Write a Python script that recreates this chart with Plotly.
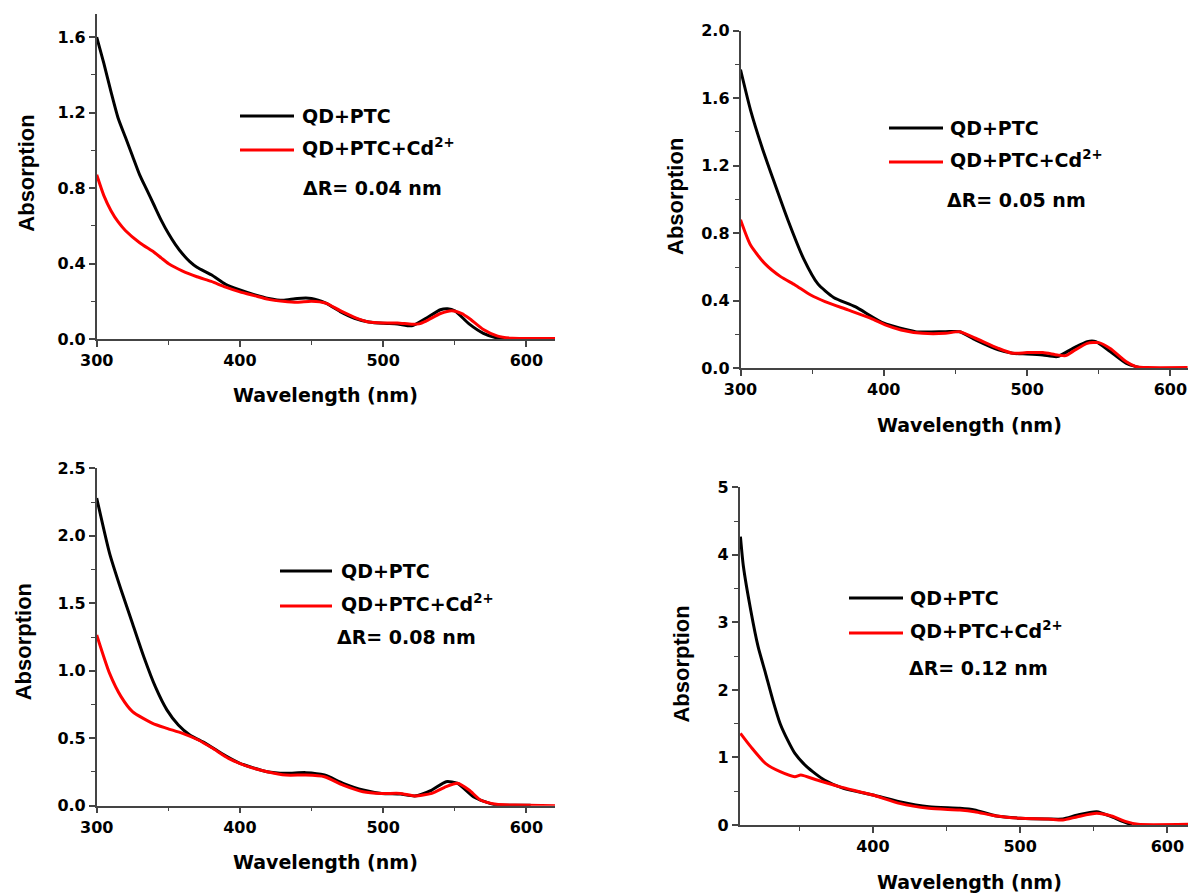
import plotly.graph_objects as go

W, H = 1188, 894

# ---------------- data ----------------
# Panel 1  (ΔR = 0.04 nm)
p1_black_x = [300, 305, 310, 315, 320, 325, 330, 335, 340, 345, 350, 355, 360, 365, 370, 380, 390, 400, 410, 420,
              430, 440, 450, 460, 470, 480, 490, 500, 510, 520, 530, 540, 545, 550, 560, 570, 580, 590]
p1_black_y = [1.60, 1.46, 1.31, 1.17, 1.07, 0.97, 0.87, 0.79, 0.71, 0.63, 0.56, 0.50, 0.45, 0.41, 0.38, 0.34, 0.29, 0.26, 0.235, 0.215,
              0.205, 0.215, 0.215, 0.19, 0.145, 0.11, 0.09, 0.083, 0.08, 0.07, 0.11, 0.155, 0.16, 0.15, 0.08, 0.03, 0.005, 0.0]
p1_red_x = [300, 305, 310, 315, 320, 330, 340, 345, 350, 360, 370, 380, 390, 400, 410, 420, 430, 440, 450, 460,
            470, 480, 490, 500, 510, 520, 525, 530, 540, 548, 555, 560, 570, 580, 590, 600, 620]
p1_red_y = [0.87, 0.76, 0.68, 0.62, 0.575, 0.51, 0.46, 0.43, 0.40, 0.36, 0.33, 0.305, 0.275, 0.25, 0.23, 0.21, 0.20, 0.195, 0.20, 0.19,
            0.15, 0.115, 0.09, 0.085, 0.085, 0.078, 0.08, 0.095, 0.135, 0.15, 0.135, 0.11, 0.05, 0.015, 0.004, 0.003, 0.003]

# Panel 2  (ΔR = 0.05 nm)
p2_black_x = [300, 307, 315, 323, 333, 344, 354, 365, 380, 400, 422, 443, 453, 464, 480, 490, 500, 511, 521, 532,
              542, 548, 558, 569, 576, 582]
p2_black_y = [1.77, 1.53, 1.31, 1.115, 0.88, 0.65, 0.50, 0.42, 0.365, 0.267, 0.217, 0.217, 0.217, 0.168, 0.109, 0.089, 0.085, 0.079, 0.069, 0.118,
              0.158, 0.158, 0.099, 0.03, 0.01, 0.0]
p2_red_x = [300, 307, 317, 328, 338, 349, 359, 375, 391, 401, 412, 427, 443, 453, 464, 480, 490, 500, 511, 521,
            527, 532, 542, 550, 558, 569, 576, 584, 612]
p2_red_y = [0.88, 0.73, 0.62, 0.543, 0.494, 0.434, 0.395, 0.346, 0.296, 0.257, 0.227, 0.207, 0.207, 0.217, 0.178, 0.118, 0.089, 0.093, 0.093, 0.079,
            0.075, 0.10, 0.148, 0.152, 0.118, 0.04, 0.01, 0.004, 0.004]

# Panel 3  (ΔR = 0.08 nm)
p3_black_x = [300, 309, 317, 325, 333, 341, 349, 357, 365, 376, 387, 400, 419, 432, 446, 459, 472, 486, 499, 512,
              522, 534, 544, 552, 563, 571, 579, 590, 603]
p3_black_y = [2.28, 1.87, 1.60, 1.35, 1.10, 0.88, 0.71, 0.598, 0.524, 0.462, 0.388, 0.314, 0.252, 0.24, 0.245, 0.227, 0.166, 0.116, 0.091, 0.086,
              0.072, 0.116, 0.178, 0.166, 0.067, 0.03, 0.005, 0.004, 0.004]
p3_red_x = [300, 309, 317, 325, 339, 349, 360, 371, 381, 392, 406, 419, 432, 446, 459, 472, 486, 499, 512, 522,
            534, 544, 552, 560, 568, 579, 592, 620]
p3_red_y = [1.265, 0.98, 0.808, 0.697, 0.61, 0.573, 0.536, 0.487, 0.425, 0.351, 0.289, 0.252, 0.227, 0.227, 0.215, 0.153, 0.104, 0.091, 0.091, 0.072,
            0.091, 0.141, 0.166, 0.116, 0.042, 0.01, 0.005, 0.0]

# Panel 4  (ΔR = 0.12 nm)
p4_black_x = [310, 312, 317, 322, 327, 332, 337, 342, 347, 355, 367, 380, 400, 418, 438, 459, 469, 484, 500, 519,
              529, 539, 552, 562, 570, 576]
p4_black_y = [4.27, 3.83, 3.18, 2.64, 2.25, 1.85, 1.50, 1.26, 1.06, 0.864, 0.666, 0.543, 0.444, 0.345, 0.27, 0.247, 0.222, 0.133, 0.10, 0.089,
              0.089, 0.148, 0.197, 0.123, 0.05, 0.0]
p4_red_x = [310, 317, 327, 337, 347, 351, 362, 377, 400, 418, 438, 459, 469, 484, 500, 519, 529, 539, 552, 562,
            572, 580, 614]
p4_red_y = [1.357, 1.16, 0.913, 0.79, 0.716, 0.74, 0.666, 0.568, 0.444, 0.32, 0.247, 0.222, 0.197, 0.133, 0.10, 0.089, 0.074, 0.123, 0.173, 0.133,
            0.05, 0.01, 0.01]

series_names = ["QD+PTC", "QD+PTC+Cd<sup>2+</sup>"]
delta_labels = ["ΔR= 0.04 nm", "ΔR= 0.05 nm", "ΔR= 0.08 nm", "ΔR= 0.12 nm"]
x_title = "Wavelength (nm)"
y_title = "Absorption"

panels = [
    (p1_black_x, p1_black_y, p1_red_x, p1_red_y),
    (p2_black_x, p2_black_y, p2_red_x, p2_red_y),
    (p3_black_x, p3_black_y, p3_red_x, p3_red_y),
    (p4_black_x, p4_black_y, p4_red_x, p4_red_y),
]

# ---------------- layout geometry (pixels) ----------------
# left, right, top, bottom of plot area
geom = [
    (96.7, 555.0, 14.0, 339.0),
    (740.5, 1188.0, 30.7, 368.3),
    (96.7, 555.0, 468.3, 805.7),
    (739.7, 1188.0, 487.3, 825.0),
]
x_ranges = [[300, 620], [300, 612.3], [300, 620], [309.5, 614]]
y_ranges = [[0, 1.722], [0, 2.0], [0, 2.5], [0, 5]]
y_dticks = [0.4, 0.4, 0.5, 1]
y_formats = [".1f", ".1f", ".1f", "d"]

# legend / label positions (pixels)
legend_pos = [
    # line x0, line x1, text x, y black, y red, delta x, delta y
    (240, 294, 300, 116, 150, 301, 188),
    (889, 943, 948, 128, 162, 945, 200),
    (280, 332, 339, 571, 606, 335, 637),
    (849, 903, 908, 598, 633, 907, 668),
]
xtitle_pos = [(325, 395), (969, 425), (325, 862), (969, 882)]
ytitle_pos = [(25.7, 173), (675, 197), (23.3, 642), (680.6, 664)]

BOLD = "DejaVu Sans"
px = lambda x: x / W
py = lambda y: 1 - y / H

fig = go.Figure()
annotations = []
shapes = []

for i, (bx, by, rx, ry) in enumerate(panels):
    n = "" if i == 0 else str(i + 1)
    fig.add_trace(go.Scatter(x=bx, y=by, mode="lines", name="QD+PTC",
                             line=dict(color="black", width=3, shape="spline", smoothing=0.6),
                             xaxis="x" + n, yaxis="y" + n, showlegend=False))
    fig.add_trace(go.Scatter(x=rx, y=ry, mode="lines", name="QD+PTC+Cd2+",
                             line=dict(color="#ff0000", width=3, shape="spline", smoothing=0.6),
                             xaxis="x" + n, yaxis="y" + n, showlegend=False))
    l, r, t, b = geom[i]
    axcommon = dict(showgrid=False, zeroline=False, showline=True, linecolor="#444444", linewidth=1.5,
                    ticks="outside", ticklen=6, tickwidth=1.5, tickcolor="#444444", automargin=False,
                    tickfont=dict(family=BOLD, size=16, color="black", weight="bold"))
    fig.update_layout(**{
        "xaxis" + n: dict(domain=[px(l), px(r)], range=x_ranges[i], anchor="y" + n,
                          dtick=100, tick0=0,
                          minor=dict(dtick=50, tick0=0, ticks="outside", ticklen=4, tickcolor="#444444", tickwidth=1.2),
                          **axcommon),
        "yaxis" + n: dict(domain=[py(b), py(t)], range=y_ranges[i], anchor="x" + n,
                          dtick=y_dticks[i], tick0=0, tickformat=y_formats[i],
                          minor=dict(dtick=y_dticks[i] / 2, tick0=0, ticks="outside", ticklen=4, tickcolor="#444444", tickwidth=1.2),
                          **axcommon),
    })

    lx0, lx1, tx, yb, yr, dx, dy = legend_pos[i]
    shapes.append(dict(type="line", xref="paper", yref="paper", x0=px(lx0), x1=px(lx1), y0=py(yb), y1=py(yb),
                       line=dict(color="black", width=3)))
    shapes.append(dict(type="line", xref="paper", yref="paper", x0=px(lx0), x1=px(lx1), y0=py(yr), y1=py(yr),
                       line=dict(color="#ff0000", width=3)))
    lab_font = dict(family=BOLD, size=19, color="black", weight="bold")
    annotations.append(dict(text=series_names[0], x=px(tx), y=py(yb), xref="paper", yref="paper",
                            xanchor="left", yanchor="middle", showarrow=False, font=lab_font))
    annotations.append(dict(text=series_names[1], x=px(tx), y=py(yr - 3), xref="paper", yref="paper",
                            xanchor="left", yanchor="middle", showarrow=False, font=lab_font))
    annotations.append(dict(text=delta_labels[i], x=px(dx), y=py(dy), xref="paper", yref="paper",
                            xanchor="left", yanchor="middle", showarrow=False, font=lab_font))
    xt = xtitle_pos[i]
    annotations.append(dict(text=x_title, x=px(xt[0]), y=py(xt[1]), xref="paper", yref="paper",
                            xanchor="center", yanchor="middle", showarrow=False,
                            font=dict(family=BOLD, size=19, color="black", weight="bold")))
    yt = ytitle_pos[i]
    annotations.append(dict(text=y_title, x=px(yt[0]), y=py(yt[1]), xref="paper", yref="paper",
                            xanchor="center", yanchor="middle", showarrow=False, textangle=-90,
                            font=dict(family="Liberation Sans", size=22, color="black", weight="bold")))

fig.update_layout(template="none", width=W, height=H, margin=dict(l=0, r=0, t=0, b=0, pad=0),
                  paper_bgcolor="white", plot_bgcolor="white",
                  annotations=annotations, shapes=shapes, showlegend=False)

fig.write_html("out.html")
